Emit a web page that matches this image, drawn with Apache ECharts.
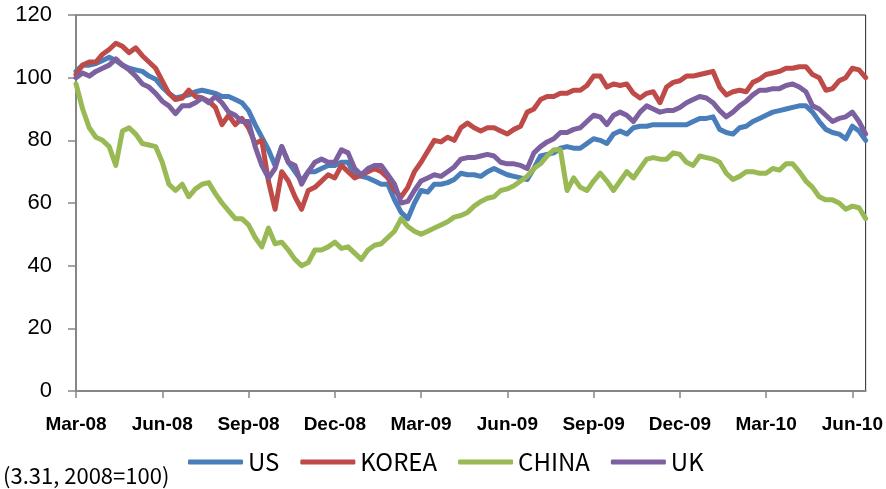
<!DOCTYPE html>
<html>
<head>
<meta charset="utf-8">
<script src="https://cdn.jsdelivr.net/npm/echarts@6/dist/echarts.min.js"></script>
<style>
  html, body { margin: 0; padding: 0; background: #fff; }
  #chart { width: 886px; height: 489px; }
</style>
</head>
<body>
<div id="chart"></div>
<script>
// Quarter tick labels (one every 13 weekly points)
const tickLabels = ['Mar-08', 'Jun-08', 'Sep-08', 'Dec-08', 'Mar-09', 'Jun-09', 'Sep-09', 'Dec-09', 'Mar-10', 'Jun-10'];
const seriesNames = ['US', 'KOREA', 'CHINA', 'UK'];

// Weekly index levels, 3.31.2008 = 100
const us = [
  102, 104, 104, 104.5, 105.5, 106.5, 105.5, 104, 103, 102.5, 102, 100.5, 99.5, 97, 95, 93.5,
  94, 94.5, 95.5, 96, 95.5, 95, 94, 94, 93, 92, 89.5, 85, 81, 77, 72,
  78, 73, 70, 67, 70, 70, 71, 72, 72, 73, 73, 69, 68.5, 68, 67,
  66, 66, 61, 57, 55, 60, 64, 63.5, 66, 66, 66.5, 67.5, 69.5, 69, 69,
  68.5, 70, 71, 70, 69, 68.5, 68, 67.5, 71, 75, 75.5, 76, 77.5, 78, 77.5,
  77.5, 79, 80.5, 80, 79, 82, 83, 82, 84, 84.5, 84.5, 85, 85, 85, 85,
  85, 85, 86, 87, 87, 87.5, 83.5, 82.5, 82, 84, 84.5, 86, 87, 88, 89,
  89.5, 90, 90.5, 91, 91, 89, 86, 83.5, 82.5, 82, 80.5, 84.5, 83, 80
];
const korea = [
  101, 104, 105, 105, 107.5, 109, 111, 110, 108, 109.5, 107, 105, 103, 99, 95, 93,
  93.5, 96, 94, 93.5, 92.5, 90.5, 85, 88, 85, 87, 84, 79, 80, 67, 58,
  70, 67, 62, 58, 64, 65, 67, 69, 68, 72, 70, 68, 69, 70, 71,
  70, 68, 64, 62, 65, 70, 73, 76.5, 80, 79.5, 81, 80, 84, 85.5, 84,
  83, 84, 84, 83, 82, 83.5, 84.5, 89, 90, 93, 94, 94, 95, 95, 96,
  96, 97.5, 100.5, 100.5, 97, 98, 97.5, 98, 95, 93.5, 95, 95.5, 92, 97, 98.5,
  99, 100.5, 100.5, 101, 101.5, 102, 97, 94.5, 95.5, 96, 95.5, 98.5, 99.5, 101, 101.5,
  102, 103, 103, 103.5, 103.5, 101, 100, 96, 96.5, 99, 100, 103, 102.5, 100
];
const china = [
  98, 90, 84, 81, 80, 78, 72, 83, 84, 82, 79, 78.5, 78, 73, 66, 64,
  66, 62, 64.5, 66, 66.5, 63, 60, 57.5, 55, 55, 53, 49, 46, 52, 47,
  47.5, 45, 42, 40, 41, 45, 45, 46, 47.5, 45.5, 46, 44, 42, 45, 46.5,
  47, 49, 51, 55, 52.5, 51, 50, 51, 52, 53, 54, 55.5, 56, 57, 59,
  60.5, 61.5, 62, 64, 64.5, 65.5, 67, 68.5, 71, 72.5, 75, 77, 77, 64, 68,
  65, 64, 67, 69.5, 67, 64, 67, 70, 68, 71, 74, 74.5, 74, 74, 76,
  75.5, 73, 72, 75, 74.5, 74, 73, 69.5, 67.5, 68.5, 70, 70, 69.5, 69.5, 71,
  70.5, 72.5, 72.5, 70, 67, 65, 62, 61, 61, 60, 58, 59, 58.5, 55
];
const uk = [
  100, 101.5, 100.5, 102, 103, 104, 106, 104, 102.5, 100.5, 98, 97, 95, 92.5, 91, 88.5,
  91, 91, 92, 93.5, 92, 94, 92, 89, 88, 86, 86, 78, 72, 68, 71,
  78, 73, 72, 66, 70, 73, 74, 73, 73, 77, 76, 71, 69, 71, 72,
  72, 69, 66, 60, 60.5, 64, 67, 68, 69, 68.5, 70, 71.5, 74, 74.5, 74.5,
  75, 75.5, 75, 73, 72.5, 72.5, 72, 71, 76, 78, 79.5, 80.5, 82.5, 82.5, 83.5,
  84, 86, 88, 87.5, 85, 88, 89, 88, 86, 89, 91, 90, 89, 89.5, 89.5,
  90.5, 92, 93, 94, 93.5, 92, 89.5, 87.5, 89, 91, 92.5, 94.5, 96, 96, 96.5,
  96.5, 97.5, 98, 97, 95.5, 91, 90, 88, 86, 87, 87.5, 89, 86, 82
];

const colors = ['#4a7ebb', '#be4b48', '#98b954', '#7d60a0'];
const values = [us, korea, china, uk];

// One category per weekly observation
const weeks = us.map((_, i) => 'w' + i);
const TICK_STEP = 13;

const chart = echarts.init(document.getElementById('chart'), null, { renderer: 'canvas' });

chart.setOption({
  animation: false,
  color: colors,
  grid: {
    left: 76, right: 20, top: 15, bottom: 98,
    show: true, borderColor: '#262626', borderWidth: 1, backgroundColor: 'transparent'
  },
  legend: {
    left: 183, top: 445,
    itemWidth: 55, itemHeight: 5, itemGap: 21,
    icon: 'roundRect',
    textStyle: { fontFamily: 'Noto Sans CJK KR', fontSize: 24, color: '#000' },
    data: seriesNames
  },
  graphic: [{
    type: 'text', left: 3, top: 465,
    style: { text: '(3.31, 2008=100)', font: '22px "Noto Sans CJK KR"', fill: '#000' }
  }],
  xAxis: {
    type: 'category',
    data: weeks,
    boundaryGap: false,
    axisLine: { lineStyle: { color: '#868686', width: 2 } },
    axisTick: { interval: TICK_STEP - 1, length: 7, lineStyle: { color: '#868686', width: 1.5 } },
    axisLabel: {
      interval: TICK_STEP - 1, margin: 24,
      fontFamily: 'Liberation Sans', fontWeight: 'bold', fontSize: 19, color: '#000',
      formatter: (v, idx) => tickLabels[idx / TICK_STEP] || ''
    },
    splitLine: { show: false }
  },
  yAxis: {
    type: 'value', min: 0, max: 120, interval: 20,
    axisLine: { show: true, lineStyle: { color: '#868686', width: 2 } },
    axisTick: { show: true, length: 8, lineStyle: { color: '#868686', width: 1.5 } },
    axisLabel: { margin: 24, fontFamily: 'Liberation Sans', fontSize: 22, color: '#000' },
    splitLine: { show: false }
  },
  series: seriesNames.map((name, k) => ({
    name: name,
    type: 'line',
    data: values[k],
    symbol: 'none',
    lineStyle: { width: 5, color: colors[k], cap: 'round', join: 'round' },
    itemStyle: { color: colors[k] }
  }))
});
</script>
</body>
</html>
